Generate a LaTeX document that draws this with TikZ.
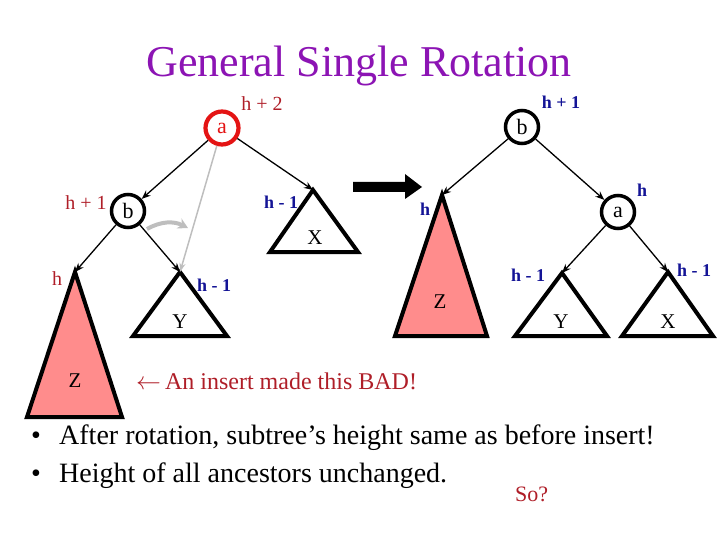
\documentclass[tikz,border=0pt]{standalone}
\usepackage{fontspec}
\setmainfont{Liberation Serif}
\usetikzlibrary{arrows.meta}
\definecolor{ttl}{RGB}{140,20,180}
\definecolor{lred}{RGB}{175,30,40}
\definecolor{nred}{RGB}{228,20,20}
\definecolor{lblue}{RGB}{20,20,150}
\definecolor{pinkf}{RGB}{255,140,140}
\definecolor{gry}{RGB}{190,190,190}
\tikzset{
  tnode/.style={circle,draw=black,line width=3.5pt,minimum size=33pt,inner sep=0pt,font=\fontsize{22}{22}\selectfont},
  tri/.style={draw=black,line width=4pt,line join=miter},
  conn/.style={line width=1.3pt,-{Stealth[length=9pt,width=7pt]}},
  lblR/.style={text=lred,font=\fontsize{20}{20}\selectfont,inner sep=0pt},
  lblB/.style={text=lblue,font=\bfseries\fontsize{18}{18}\selectfont,inner sep=0pt},
  tlet/.style={font=\fontsize{21}{21}\selectfont,inner sep=0pt},
  btxt/.style={font=\fontsize{28}{28}\selectfont,inner sep=0pt,anchor=base west},
}
\begin{document}
\begin{tikzpicture}[x=1pt,y=-1pt]
\useasboundingbox (0,0) rectangle (720,540);
% title
\node[text=ttl,font=\fontsize{44}{44}\selectfont,inner sep=0pt] (title) at (359,66) {General Single Rotation};

% ---------- left tree ----------
\node[tnode,draw=nred,text=nred,line width=4.2pt] (la) at (222,128) {a};
\node[tnode] (lb) at (128,211) {b};
\coordinate (lXt) at (313,190);
\coordinate (lZt) at (75,272);
\coordinate (lYt) at (180,272);
\draw[tri] (lXt) -- (270,252) -- (358,252) -- cycle;
\draw[tri,fill=pinkf] (lZt) -- (27,417) -- (122,417) -- cycle;
\draw[tri] (lYt) -- (133,336) -- (227,336) -- cycle;
\node[tlet] (lX) at (315,238) {X};
\node[tlet] (lZ) at (75,381) {Z};
\node[tlet] (lY) at (180,322) {Y};
\draw[conn] (la) -- (lb);
\draw[conn] (la) -- (lXt);
\draw[conn] (lb) -- (lZt);
\draw[conn] (lb) -- (lYt);
\draw[gry,line width=1.5pt,-{Stealth[length=9pt,width=6pt]}] (la) -- (lYt);
\coordinate (cs) at (147,229);
\coordinate (ce) at (188,228);
\draw[gry,line width=4pt,-{Stealth[length=10pt,width=11pt]}] (cs) to[bend left=28] (ce);
\node[lblR] (l1) at (262,104) {h + 2};
\node[lblR] (l2) at (86,203) {h + 1};
\node[lblR] (l3) at (57,279) {h};
\node[lblB] (l4) at (281,202) {h - 1};
\node[lblB] (l5) at (214,285) {h - 1};

% big arrow
\fill[black] (353,182) -- (405,182) -- (405,174) -- (422,187) -- (405,199) -- (405,192) -- (353,192) -- cycle;

% ---------- right tree ----------
\node[tnode] (rb) at (522,127) {b};
\node[tnode] (ra) at (618,212) {a};
\coordinate (rZt) at (442,195);
\coordinate (rYt) at (562,273);
\coordinate (rXt) at (668,272);
\draw[tri,fill=pinkf] (rZt) -- (395,336) -- (487,336) -- cycle;
\draw[tri] (rYt) -- (515,336) -- (607,336) -- cycle;
\draw[tri] (rXt) -- (622,336) -- (713,336) -- cycle;
\node[tlet] (rZ) at (440,302) {Z};
\node[tlet] (rY) at (561,322) {Y};
\node[tlet] (rX) at (668,322) {X};
\draw[conn] (rb) -- (rZt);
\draw[conn] (rb) -- (ra);
\draw[conn] (ra) -- (rYt);
\draw[conn] (ra) -- (rXt);
\node[lblB] (r1) at (561,102) {h + 1};
\node[lblB] (r2) at (642,190) {h};
\node[lblB] (r3) at (425,209) {h};
\node[lblB] (r4) at (528,275) {h - 1};
\node[lblB] (r5) at (694,270) {h - 1};

% texts
\node[text=lred,font=\fontsize{24}{24}\selectfont,inner sep=0pt,anchor=base west] (bad) at (136,389) {$\leftarrow$\,An insert made this BAD!};
\node[btxt] (b1d) at (31,444) {•};
\node[btxt] (b1) at (59,444) {After rotation, subtree’s height same as before insert!};
\node[btxt] (b2d) at (31,482) {•};
\node[btxt] (b2) at (59,482) {Height of all ancestors unchanged.};
\node[text=lred,font=\fontsize{22}{22}\selectfont,inner sep=0pt,anchor=base west] (so) at (515,501) {So?};
\end{tikzpicture}
\end{document}
